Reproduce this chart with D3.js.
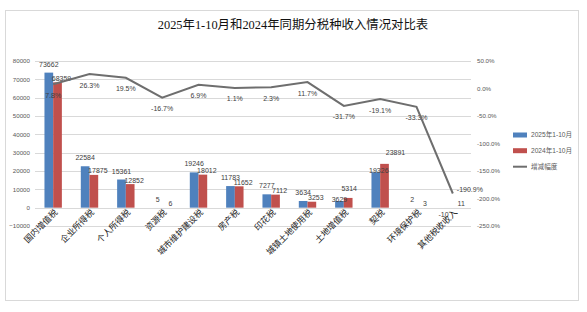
<!DOCTYPE html>
<html>
<head>
<meta charset="utf-8">
<script src="https://cdn.jsdelivr.net/npm/d3@7"></script>
<style>
  body { margin: 0; background: #fff; }
  svg { display: block; }
</style>
</head>
<body>
<div id="plot"></div>
<script>
// data
var categories = ["国内增值税", "企业所得税", "个人所得税", "资源税", "城市维护建设税", "房产税",
                  "印花税", "城镇土地使用税", "土地增值税", "契税", "环境保护税", "其他税收收入"];
var values2025 = [73662, 22584, 15361, 5, 19246, 11783, 7277, 3634, 3629, 19326, 2, -10];
var values2024 = [68359, 17875, 12852, 6, 18012, 11652, 7112, 3253, 5314, 23891, 3, 11];
var growth = [7.8, 26.3, 19.5, -16.7, 6.9, 1.1, 2.3, 11.7, -31.7, -19.1, -33.3, -190.9];
var leftTicks = [-10000, 0, 10000, 20000, 30000, 40000, 50000, 60000, 70000, 80000];
var rightTicks = [-250, -200, -150, -100, -50, 0, 50];
var seriesNames = ["2025年1-10月", "2024年1-10月", "增减幅度"];

var W = 587, H = 312;
var blue = "#4f81bd", red = "#c0504d", lineCol = "#6e6e6e", grid = "#d9d9d9", txt = "#404040";
var sans = "'Liberation Sans', 'Noto Sans CJK SC', sans-serif";

var plot = {left: 35, right: 471, top: 61, bottom: 226};

var svg = d3.select("#plot").append("svg").attr("width", W).attr("height", H);

// chart frame
svg.append("rect")
    .attr("x", 5.5).attr("y", 10.5).attr("width", 573).attr("height", 290)
    .style("fill", "#fff").style("stroke", grid).style("stroke-width", 1);

svg.append("text")
    .attr("x", 293).attr("y", 28.5)
    .attr("text-anchor", "middle")
    .style("font-family", "'Liberation Serif', 'Noto Sans CJK SC', serif")
    .style("font-size", "12.4px")
    .style("fill", "#111")
    .text("2025年1-10月和2024年同期分税种收入情况对比表");

var x = d3.scaleBand().domain(categories).range([plot.left, plot.right]).padding(0);
var y = d3.scaleLinear().domain([-10000, 80000]).range([plot.bottom, plot.top]);
var y2 = d3.scaleLinear().domain([-250, 50]).range([plot.bottom, plot.top]);
var cx = function(c) { return x(c) + x.bandwidth() / 2; };
var barW = 8.7;

// gridlines
svg.append("g").selectAll("line")
  .data(leftTicks)
  .enter().append("line")
    .attr("x1", plot.left).attr("x2", plot.right)
    .attr("y1", function(d) { return Math.round(y(d)) + 0.5; })
    .attr("y2", function(d) { return Math.round(y(d)) + 0.5; })
    .style("stroke", grid).style("stroke-width", 1);

// left axis
var axL = svg.append("g")
    .attr("transform", "translate(" + (plot.left - 2) + ",0)")
    .call(d3.axisLeft(y).tickValues(leftTicks).tickSize(0).tickPadding(3).tickFormat(d3.format("d")));
axL.select(".domain").remove();
axL.selectAll("text").style("font-family", sans).style("font-size", "6.2px").style("fill", "#595959");

// right axis
var axR = svg.append("g")
    .attr("transform", "translate(" + (plot.right + 4) + ",0)")
    .call(d3.axisRight(y2).tickValues(rightTicks).tickSize(0).tickPadding(2)
      .tickFormat(function(d) { return d.toFixed(1) + "%"; }));
axR.select(".domain").remove();
axR.selectAll("text").style("font-family", sans).style("font-size", "6.2px").style("fill", "#595959");

// bars
var bars = svg.append("g");
bars.selectAll(".b25")
  .data(values2025)
  .enter().append("rect")
    .attr("class", "b25")
    .attr("x", function(d, i) { return cx(categories[i]) - barW; })
    .attr("y", function(d) { return y(Math.max(0, d)); })
    .attr("width", barW)
    .attr("height", function(d) { return Math.abs(y(d) - y(0)); })
    .style("fill", blue);
bars.selectAll(".b24")
  .data(values2024)
  .enter().append("rect")
    .attr("class", "b24")
    .attr("x", function(d, i) { return cx(categories[i]); })
    .attr("y", function(d) { return y(Math.max(0, d)); })
    .attr("width", barW)
    .attr("height", function(d) { return Math.abs(y(d) - y(0)); })
    .style("fill", red);

// bar labels: when the 2024 bar is taller (and big enough), excel lifts its label and drops the 2025 one
var lifted = function(i) { return values2024[i] > values2025[i] && values2024[i] > 1000; };
var lab = svg.append("g")
    .style("font-family", sans).style("font-size", "7px").style("fill", txt)
    .attr("text-anchor", "middle");
lab.selectAll(".l25")
  .data(values2025)
  .enter().append("text")
    .attr("x", function(d, i) { return cx(categories[i]) - barW / 2 - (d < 0 ? 5 : 0) + (lifted(i) && d > 10000 ? 3 : 0); })
    .attr("y", function(d, i) {
      if (d < 0) return y(d) + 9;
      return lifted(i) ? y(d) + 0.5 : y(d) - 6;
    })
    .text(function(d) { return d; });
lab.selectAll(".l24")
  .data(values2024)
  .enter().append("text")
    .attr("x", function(d, i) {
      if (lifted(i)) return cx(categories[i]) + barW / 2 + (d > 10000 ? 11 : 1);
      return cx(categories[i]) + barW / 2 + 4;
    })
    .attr("y", function(d, i) { return lifted(i) ? y(d) - (d > 10000 ? 8.5 : 7) : y(d) - 1.5; })
    .text(function(d) { return d; });

// growth line
var line = d3.line()
    .x(function(d, i) { return cx(categories[i]); })
    .y(function(d) { return y2(d); });
svg.append("path")
    .datum(growth)
    .attr("d", line)
    .style("fill", "none").style("stroke", lineCol).style("stroke-width", 2);

lab.selectAll(".lg")
  .data(growth)
  .enter().append("text")
    .attr("text-anchor", function(d, i) { return i === growth.length - 1 ? "start" : "middle"; })
    .attr("x", function(d, i) { return cx(categories[i]) + (i === growth.length - 1 ? 4 : 0); })
    .attr("y", function(d, i) { return y2(d) + (i === growth.length - 1 ? -1 : 13.5); })
    .text(function(d) { return d.toFixed(1) + "%"; });

// category labels
svg.append("g").selectAll("text")
  .data(categories)
  .enter().append("text")
    .attr("transform", function(d) { return "translate(" + (cx(d) + 5) + "," + 213 + ") rotate(-45)"; })
    .attr("text-anchor", "end")
    .style("font-family", "'Noto Sans CJK SC', sans-serif")
    .style("font-size", "8.6px")
    .style("fill", "#222")
    .text(function(d) { return d; });

// legend
var leg = svg.append("g").attr("transform", "translate(513,135)");
[blue, red].forEach(function(c, i) {
  leg.append("rect").attr("x", 0).attr("y", i * 15.7 - 2.5).attr("width", 14).attr("height", 5).style("fill", c);
});
leg.append("line").attr("x1", 0).attr("x2", 14).attr("y1", 31.7).attr("y2", 31.7)
    .style("stroke", lineCol).style("stroke-width", 2);
leg.selectAll("text")
  .data(seriesNames)
  .enter().append("text")
    .attr("x", 18).attr("y", function(d, i) { return i * 15.7 + 2.3; })
    .style("font-family", sans).style("font-size", "6.6px").style("fill", "#595959")
    .text(function(d) { return d; });
</script>
</body>
</html>
